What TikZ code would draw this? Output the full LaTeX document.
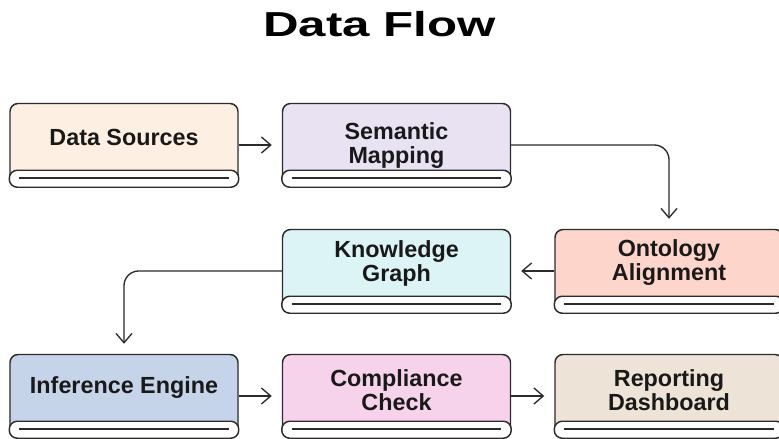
\documentclass[tikz,border=0pt]{standalone}
\usepackage{fontspec}
\setmainfont{Liberation Sans}
\usetikzlibrary{arrows.meta}

\definecolor{linecol}{HTML}{2B2B2B}
\definecolor{srcfill}{HTML}{FDF0E2}
\definecolor{mapfill}{HTML}{E8E2F3}
\definecolor{ontfill}{HTML}{FDD5CB}
\definecolor{kgfill}{HTML}{DDF4F6}
\definecolor{inffill}{HTML}{C6D4E9}
\definecolor{compfill}{HTML}{F6D3EA}
\definecolor{repfill}{HTML}{EDE3D6}

\tikzset{
  flowbox/.style={draw=linecol, line width=1.1pt, rounded corners=6pt,
    minimum width=171pt, minimum height=62.25pt, inner sep=0pt},
  roll/.style={draw=linecol, fill=white, line width=1.1pt, rounded corners=6pt},
  rollline/.style={draw=linecol, line width=1.4pt},
  boxtext/.style={font=\fontsize{17.5}{18}\selectfont\bfseries, text=black!90,
    align=center, inner sep=0pt},
  flow/.style={-{Straight Barb[length=7pt,width=12pt]}, draw=linecol,
    line width=1pt, shorten >=7.5pt, rounded corners=11pt}
}

\begin{document}
\begin{tikzpicture}[x=0.75pt, y=-0.75pt]
  \useasboundingbox[fill=white] (0,0) rectangle (779,439);

  \node[font=\fontsize{26}{28}\selectfont\bfseries] (title) at (379.5,24.5)
    {\scalebox{1.42}[1]{Data Flow}};

  % boxes with the scroll at the bottom
  \foreach \n/\x/\y/\o/\c/\t in {
      src/124/145/-8/srcfill/{Data Sources},
      map/396.5/145/1/mapfill/{Semantic\\Mapping},
      ont/669/271/-8/ontfill/{Ontology\\Alignment},
      kg/396.5/271/-8/kgfill/{Knowledge\\Graph},
      inf/124/396/-8/inffill/{Inference Engine},
      comp/396.5/396/-6/compfill/{Compliance\\Check},
      rep/669/396/-6/repfill/{Reporting\\Dashboard}}{
    \node[flowbox, fill=\c] (\n) at (\x,\y) {};
    \draw[roll] ([yshift=12.75pt]\n.south west) rectangle (\n.south east);
    \draw[rollline] ([shift={(10,-9)}]\n.south west) -- ([shift={(-10,-9)}]\n.south east);
    \node[boxtext] (\n-text) at ([shift={(0,\o)}]\n.center) {\t};
  }

  % connectors
  \draw[flow] (src) -- (map);
  \draw[flow] (map.east) -| (ont.north);
  \draw[flow] (ont) -- (kg);
  \draw[flow] (kg.west) -| (inf.north);
  \draw[flow] (inf) -- (comp);
  \draw[flow] (comp) -- (rep);
\end{tikzpicture}
\end{document}
